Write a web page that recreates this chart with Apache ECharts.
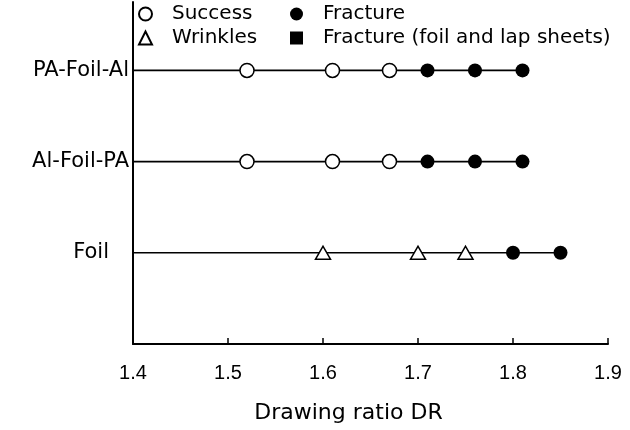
<!DOCTYPE html>
<html><head><meta charset="utf-8">
<script src="https://cdn.jsdelivr.net/npm/echarts@6/dist/echarts.min.js"></script>
<style>html,body{margin:0;padding:0;background:#fff}#c{width:630px;height:430px}</style>
</head><body><div id="c"></div>
<script>
const rows = ['Foil', 'Al-Foil-PA', 'PA-Foil-Al'];
const rowPos = [1, 2, 3];
const xTicks = [1.4, 1.5, 1.6, 1.7, 1.8, 1.9];
// PA-Foil-Al
const paSuccess = [1.52, 1.61, 1.67];
const paFracture = [1.71, 1.76, 1.81];
// Al-Foil-PA
const alSuccess = [1.52, 1.61, 1.67];
const alFracture = [1.71, 1.76, 1.81];
// Foil
const foilWrinkles = [1.60, 1.70, 1.75];
const foilFracture = [1.80, 1.85];
const lapFracture = [];

const wide = '"DejaVu Sans", sans-serif';
const num = '"Liberation Sans", Arial, sans-serif';
const pts = (xs, y) => xs.map(x => [x, y]);
const lineEnd = (all, y) => [[xTicks[0], y], [Math.max(...all), y]];

const chart = echarts.init(document.getElementById('c'));
const lineStyle = {color: '#000', width: 1.6};
chart.setOption({
  animation: false,
  grid: {left: 133, right: 22, top: 2, bottom: 86},
  xAxis: {
    type: 'value', min: xTicks[0], max: xTicks[xTicks.length - 1], interval: 0.1,
    name: 'Drawing ratio DR', nameLocation: 'middle', nameGap: 58,
    nameTextStyle: {fontFamily: wide, fontSize: 22, color: '#000', padding: [0, 44, 0, 0]},
    axisLine: {lineStyle: {color: '#000', width: 2}},
    axisTick: {inside: true, length: 6, lineStyle: {color: '#000', width: 1.5}},
    axisLabel: {fontFamily: num, fontSize: 20, color: '#000', margin: 19,
      formatter: v => v.toFixed(1)},
    splitLine: {show: false}
  },
  yAxis: {
    type: 'value', min: 0, max: 3.75,
    axisLine: {show: true, lineStyle: {color: '#000', width: 2}},
    axisTick: {show: false}, splitLine: {show: false},
    axisLabel: {
      fontFamily: wide, fontSize: 21, color: '#000', margin: 4,
      customValues: rowPos,
      formatter: v => { const i = rowPos.indexOf(v); if (i < 0) return ''; return rows[i] === 'Foil' ? '{f|Foil}' : rows[i]; },
      rich: {f: {fontFamily: wide, fontSize: 21, color: '#000', padding: [0, 20, 0, 0]}}
    }
  },
  legend: [
    {data: ['Success'], left: 138, top: 4},
    {data: ['Fracture'], left: 290, top: 4},
    {data: ['Wrinkles'], left: 138, top: 28},
    {data: ['Fracture (foil and lap sheets)'], left: 290, top: 28}
  ].map(l => Object.assign(l, {itemWidth: 13, itemHeight: 13, itemGap: 10, padding: 0,
      textStyle: {fontFamily: wide, fontSize: 20, color: '#000', padding: [0, 0, 0, 15]}})),
  series: [
    {type: 'line', data: lineEnd(paSuccess.concat(paFracture), 3), symbol: 'none', lineStyle, z: 1, silent: true},
    {type: 'line', data: lineEnd(alSuccess.concat(alFracture), 2), symbol: 'none', lineStyle, z: 1, silent: true},
    {type: 'line', data: lineEnd(foilWrinkles.concat(foilFracture), 1), symbol: 'none', lineStyle, z: 1, silent: true},
    {name: 'Success', type: 'scatter', symbol: 'circle', symbolSize: 14,
      itemStyle: {color: '#fff', borderColor: '#000', borderWidth: 1.5, opacity: 1},
      data: pts(paSuccess, 3).concat(pts(alSuccess, 2)), z: 3},
    {name: 'Fracture', type: 'scatter', symbol: 'circle', symbolSize: 14,
      itemStyle: {color: '#000', opacity: 1},
      data: pts(paFracture, 3).concat(pts(alFracture, 2), pts(foilFracture, 1)), z: 3},
    {name: 'Wrinkles', type: 'scatter', symbol: 'triangle', symbolSize: [15, 13],
      itemStyle: {color: '#fff', borderColor: '#000', borderWidth: 1.5, opacity: 1},
      data: pts(foilWrinkles, 1), z: 3},
    {name: 'Fracture (foil and lap sheets)', type: 'scatter', symbol: 'rect', symbolSize: 11,
      itemStyle: {color: '#000', opacity: 1}, data: pts(lapFracture, 1), z: 3}
  ]
});
</script></body></html>
